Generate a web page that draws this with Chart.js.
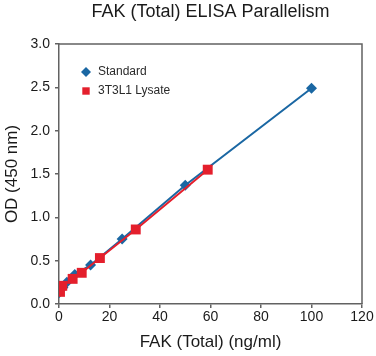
<!DOCTYPE html>
<html>
<head>
<meta charset="utf-8">
<script src="https://cdn.jsdelivr.net/npm/chart.js@4"></script>
<style>
html,body{margin:0;padding:0;background:#fff;}
#wrap{width:376px;height:356px;}
</style>
</head>
<body>
<div id="wrap"><canvas id="c" width="376" height="356"></canvas></div>
<script>
const chartTitle = "FAK (Total) ELISA Parallelism";
const xTitle = "FAK (Total) (ng/ml)";
const yTitle = "OD (450 nm)";
const seriesNames = ["Standard", "3T3L1 Lysate"];
const standardX = [0, 1.5625, 3.125, 6.25, 12.5, 25, 50, 100];
const standardY = [0.13, 0.19, 0.25, 0.34, 0.45, 0.75, 1.37, 2.49];
const lysateX = [0.4, 1.3, 5.4, 9, 16.2, 30.4, 58.9];
const lysateY = [0.14, 0.21, 0.29, 0.36, 0.53, 0.86, 1.55];
const xTicks = [0, 20, 40, 60, 80, 100, 120];
const yTicks = [0, 0.5, 1.0, 1.5, 2.0, 2.5, 3.0];

const BLUE = '#1a67a3';
const RED = '#e41f2c';
const AXIS = '#626262';
const FONT = "'Liberation Sans', Arial, Helvetica, sans-serif";

const toPts = (xs, ys) => xs.map((x, i) => ({x: x, y: ys[i]}));

const boxPlugin = {
  id: 'box',
  afterDatasetsDraw(chart) {
    const {ctx, chartArea: a} = chart;
    ctx.save();
    ctx.strokeStyle = AXIS;
    ctx.lineWidth = 1.5;
    ctx.beginPath();
    ctx.moveTo(a.left, a.top);
    ctx.lineTo(a.right, a.top);
    ctx.lineTo(a.right, a.bottom);
    ctx.stroke();
    ctx.restore();
  }
};

const legendPlugin = {
  id: 'innerLegend',
  afterDraw(chart) {
    const {ctx, chartArea: a} = chart;
    ctx.save();
    ctx.font = "12px " + FONT;
    ctx.textBaseline = 'middle';
    ctx.textAlign = 'left';
    chart.data.datasets.forEach((ds, i) => {
      const cx = a.left + 27;
      const cy = a.top + 28 + i * 19;
      ctx.fillStyle = ds.pointBackgroundColor;
      ctx.beginPath();
      if (ds.pointStyle === 'rectRot') {
        ctx.moveTo(cx, cy - 5); ctx.lineTo(cx + 5, cy); ctx.lineTo(cx, cy + 5); ctx.lineTo(cx - 5, cy);
      } else {
        ctx.rect(cx - 3.7, cy - 3.7, 7.4, 7.4);
      }
      ctx.closePath();
      ctx.fill();
      ctx.fillStyle = '#2a2a2a';
      ctx.fillText(ds.label, cx + 12, cy);
    });
    ctx.restore();
  }
};

new Chart(document.getElementById('c'), {
  type: 'scatter',
  data: {
    datasets: [
      {
        label: seriesNames[0],
        data: toPts(standardX, standardY),
        showLine: true,
        borderColor: BLUE,
        backgroundColor: BLUE,
        pointBackgroundColor: BLUE,
        pointBorderColor: BLUE,
        borderWidth: 2,
        pointStyle: 'rectRot',
        pointRadius: 5.5,
        pointBorderWidth: 0,
        order: 2
      },
      {
        label: seriesNames[1],
        data: toPts(lysateX, lysateY),
        showLine: true,
        borderColor: RED,
        backgroundColor: RED,
        pointBackgroundColor: RED,
        pointBorderColor: RED,
        borderWidth: 2,
        pointStyle: 'rect',
        pointRadius: 7,
        pointBorderWidth: 0,
        order: 1
      }
    ]
  },
  options: {
    responsive: false,
    animation: false,
    devicePixelRatio: 1,
    layout: {padding: {left: 0, right: 14, top: 0, bottom: 0}},
    plugins: {
      legend: {display: false},
      tooltip: {enabled: false},
      title: {
        display: true,
        text: chartTitle,
        fullSize: false,
        color: '#1a1a1a',
        font: {family: FONT, size: 18, weight: 'normal', lineHeight: 1.2},
        padding: {top: 1, bottom: 21.4}
      }
    },
    scales: {
      x: {
        type: 'linear',
        min: 0, max: 120,
        afterFit(s) { s.height = 52; },
        afterBuildTicks(s) { s.ticks = xTicks.map(v => ({value: v})); },
        border: {display: true, color: AXIS, width: 1.5},
        grid: {display: true, drawOnChartArea: false, drawTicks: true, tickLength: 4, color: AXIS, lineWidth: 1.5},
        ticks: {color: '#1a1a1a', font: {family: FONT, size: 14}, padding: 1, maxRotation: 0},
        title: {display: true, text: xTitle, color: '#1a1a1a', font: {family: FONT, size: 17}, padding: {top: 0, bottom: 3}}
      },
      y: {
        type: 'linear',
        min: 0, max: 3,
        afterFit(s) { s.width = 59; },
        afterBuildTicks(s) { s.ticks = yTicks.map(v => ({value: v})); },
        border: {display: true, color: AXIS, width: 1.5},
        grid: {display: true, drawOnChartArea: false, drawTicks: true, tickLength: 4, color: AXIS, lineWidth: 1.5},
        ticks: {color: '#1a1a1a', font: {family: FONT, size: 14}, padding: 5, callback: v => Number(v).toFixed(1)},
        title: {display: true, text: yTitle, color: '#1a1a1a', font: {family: FONT, size: 17}, padding: {top: 2, bottom: 0}}
      }
    }
  },
  plugins: [boxPlugin, legendPlugin]
});
</script>
</body>
</html>
